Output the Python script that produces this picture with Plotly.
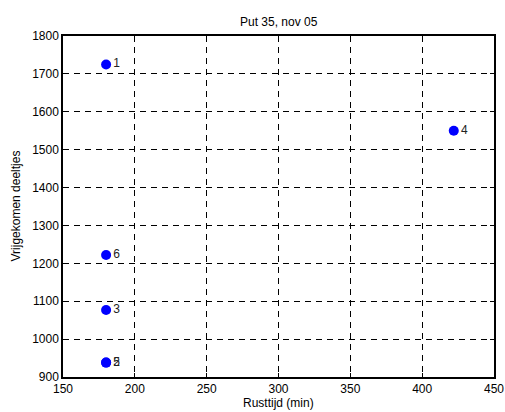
import plotly.graph_objects as go

rusttijd = [180, 180, 180, 422, 180, 180]
deeltjes = [1725, 938, 1077, 1550, 938, 1222]
labels = ["1", "2", "3", "4", "5", "6"]

x_ticks = [150, 200, 250, 300, 350, 400, 450]
y_ticks = [900, 1000, 1100, 1200, 1300, 1400, 1500, 1600, 1700, 1800]

FONT = "Liberation Sans, Arial"

fig = go.Figure()
fig.add_trace(go.Scatter(
    x=rusttijd, y=deeltjes, text=labels,
    mode="markers+text", textposition="middle right",
    marker=dict(color="#0000ff", size=10),
    textfont=dict(family=FONT, size=12, color="#222222"),
    cliponaxis=False,
))

axis_common = dict(
    showline=True, linecolor="black", linewidth=1.5, mirror="ticks",
    ticks="inside", ticklen=4, tickcolor="black",
    showgrid=True, gridcolor="black", griddash="6px,5px", gridwidth=1,
    zeroline=False, automargin=False,
    tickfont=dict(family=FONT, size=12, color="black"),
)

fig.update_layout(
    width=505, height=412,
    margin=dict(l=63, r=11, t=36, b=35),
    paper_bgcolor="white", plot_bgcolor="white",
    showlegend=False,
    xaxis=dict(range=[150, 450], tickvals=x_ticks, **axis_common),
    yaxis=dict(range=[900, 1800], tickvals=y_ticks, **axis_common),
    annotations=[
        dict(text="Put 35, nov 05", xref="paper", yref="paper", x=0.5, y=1,
             yshift=14, xanchor="center", yanchor="middle", showarrow=False,
             font=dict(family=FONT, size=12, color="black")),
        dict(text="Rusttijd (min)", xref="paper", yref="paper", x=0.5, y=0,
             yshift=-26, xanchor="center", yanchor="middle", showarrow=False,
             font=dict(family=FONT, size=12, color="black")),
        dict(text="Vrijgekomen deeltjes", xref="paper", yref="paper", x=0, y=0.5,
             xshift=-48, xanchor="center", yanchor="middle", textangle=-90, showarrow=False,
             font=dict(family=FONT, size=12, color="black")),
    ],
)

fig.write_html("out.html")
